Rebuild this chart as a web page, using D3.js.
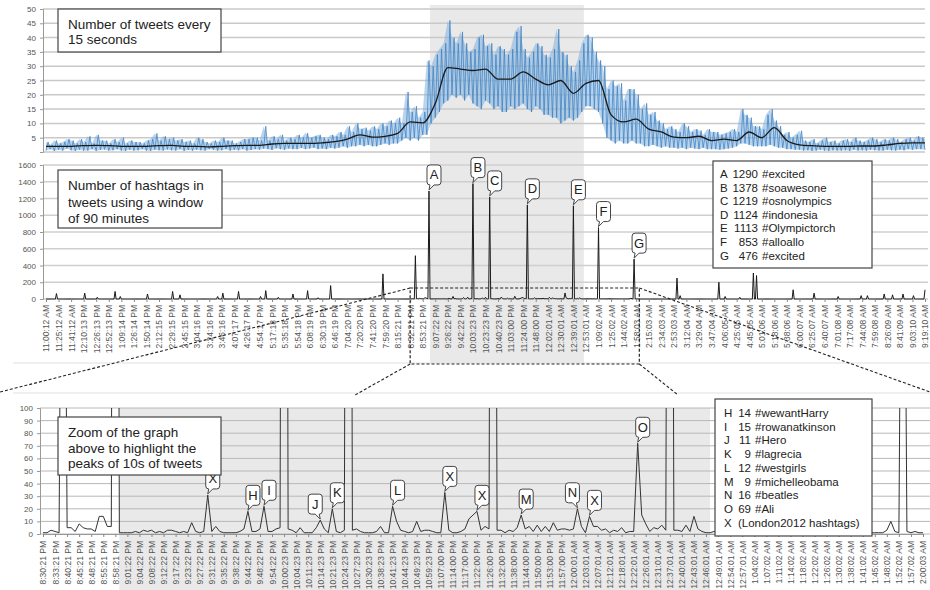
<!DOCTYPE html>
<html><head><meta charset="utf-8">
<script src="https://cdn.jsdelivr.net/npm/d3@7/dist/d3.min.js"></script>
<style>
body{margin:0;background:#fff}
text{font-family:"Liberation Sans",Arial,sans-serif}
</style>
</head><body>
<svg id="c" width="930" height="590"></svg>
<script>
// ---------- DATA ----------
// Panel 1: tweets every 15 s, envelope (high/low) of the noisy series every 4 samples and its moving average every 12 samples
const tweetsHigh = [3.5,2.5,4,3,3.5,4.5,4,3,4.5,3.5, 5.5,3,6,4,4,3,4.5,3.5,5,3,
  4,3.5,3.5,3,4,4.5,6.5,4,5.5,4.5, 5,4,4.5,3.5,4,3,5,4.5,3.5,3,
  4,3.5,5,4,4,3,3.5,4.5,4.5,5, 5,4,9,4,5.5,4.5,6,4,5,4.5,
  6,5,6.6,5,5.5,6,5,4.5,6,5.5, 7,6,9,7,10,8,8.5,7.5,9,8,
  10,9,11,10, 12,10,21,14,16,12,14,32, 30,34,36,38,46,40,38,42,
  38,35,36,40,41,37,38,34,37,36, 34,36,42,44,36,33,35,38,37,34,
  33,36,43,35,34,30,28,32,38,41, 40,35,32,30,22,25,23,24,18,22,
  22,20,15,17,13,14,11,10,8,9, 8,7,10,9,7,8,7.5,6,8,7,
  7,6,6.5,7,8,7,15,13,12,9, 9,8,13,15,11,9,6,7,5,6,
  7.4,4,3.5,4.5,3,4,5,3.5,4,3, 4,4.5,3.5,5,4,3.5,4,5,4.5,3.5,
  4.5,4,5,4.5,3.5,4.5,5,4,5.5,5,4.5];
const tweetsLow = [.5,1,.4,.8,.5,1.2,.6,.4,.8,.5, .5,1,.4,.7,.9,.5,.6,1,.5,.4,
  .8,.5,.6,1,.5,.4,.8,.6,.5,.9, .6,.5,1,.4,.7,.5,.8,.6,.5,1,
  .8,.5,.6,1,.5,.8,.6,1,.5,.7, 1,.8,1.2,1,.7,1.3,1,.8,1.2,1,
  1,1.4,1,1.2,1.5,1,1.2,1,1.5,1.2, 1.5,2,1.5,2,2,2.5,2,2.5,2,2,
  2.5,3,2.5,3, 3,4,5,4,5,4,6,6, 10,12,14,17,18,20,19,20,
  18,20,17,16,15,18,17,15,16,14, 14,16,15,16,17,15,14,16,15,13,
  13,12,12,10,11,12,11,12,14,16, 16,15,14,10,5,4,3,4,3,3,
  4,3,3,2,2,2.5,2,1.5,2,1.5, 1.5,1.2,1.5,1,1.5,1.2,1,1.5,1,1,
  1,.8,1,1.2,1.5,2,3,3,2.5,2, 2,2,2,2.5,2,1.5,1.5,1,1,.8,
  .8,.5,.6,.4,.5,.8,.5,.4,.6,.5, .5,.6,.4,.8,.5,.6,.5,.8,.6,.5,
  .5,.8,.6,.5,.8,.6,1,.8,1,1,.8];
const tweetsSmooth = [2,2,2,2.2,2.3,2.2,2,2,2,2.2, 2.3,2,2,1.8,2,2.2,2.3,2.3,2.8,3,
  3,3,3.2,3.6,4.5,6,5.2,5.5,6.5,10.5, 10.2,17,29.5,29,28.5,29,25.5,25.5,28,25.5,
  23.5,25,20.5,24,25,13,10.5,11.5,8,7, 5.2,5,5.5,4,4.5,4,7,5,8.5,4,
  2.5,2.2,2,2,2,2.1,2.1,2.5,3,3.2,3.2];
const tweetsTicks = [5,10,15,20,25,30,35,40,45,50];

// Panel 2: hashtags in a 90 min window (one label every 12 samples)
const hashLabels = ["11:00:12 AM","11:25:12 AM","11:41:12 AM","12:10:13 PM","12:26:13 PM","12:52:13 PM","1:09:14 PM","1:26:14 PM","1:50:14 PM","2:12:15 PM","2:29:15 PM","2:45:15 PM","3:04:16 PM","3:24:16 PM","3:46:16 PM","4:07:17 PM","4:26:17 PM","4:54:17 PM","5:17:18 PM","5:35:18 PM","5:54:18 PM","6:08:19 PM","6:30:19 PM","6:46:19 PM","7:04:20 PM","7:20:20 PM","7:41:20 PM","7:59:20 PM","8:15:21 PM","8:32:21 PM","8:53:21 PM","9:07:22 PM","9:26:22 PM","9:42:22 PM","10:03:23 PM","10:23:23 PM","10:40:23 PM","11:03:00 PM","11:24:00 PM","11:48:00 PM","12:02:01 AM","12:30:01 AM","12:39:01 AM","12:53:01 AM","1:09:02 AM","1:25:02 AM","1:44:02 AM","1:58:03 AM","2:15:03 AM","2:34:03 AM","2:53:03 AM","3:12:04 AM","3:29:04 AM","3:47:04 AM","4:06:05 AM","4:25:05 AM","4:45:05 AM","5:01:06 AM","5:18:06 AM","5:38:06 AM","6:00:07 AM","6:25:07 AM","6:40:07 AM","7:01:08 AM","7:17:08 AM","7:44:08 AM","7:59:08 AM","8:26:09 AM","8:41:09 AM","9:03:10 AM","9:19:10 AM"];
const hashTicks = [0,200,400,600,800,1000,1200,1400,1600];
const spikePos = [10,37,49,66,71,97,121,128,164,169,184,205,210,222,236,250,260,272,322,603,606,643,649,663,676,679,714,734,757,779,785,801,809,819,829,840];
const spikeVal = [65,70,20,90,30,60,90,50,30,70,90,30,100,20,60,100,15,160,300,250,40,200,30,20,310,280,110,70,30,40,40,60,50,60,40,110];
const peakLetters = ["A","B","C","D","E","F","G"];
const peakCounts = ["1290","1378","1219","1124","1113","853","476"];
const peakTags = ["#excited","#soawesone","#osnolympics","#indonesia","#Olympictorch","#alloallo","#excited"];

// Panel 3: zoom window (8:30 PM - 2:00 AM), one label every 3 samples
const zoomStart = 348;
const zoomLabels = ["8:30:21 PM","8:33:21 PM","8:40:21 PM","8:45:21 PM","8:48:21 PM","8:55:21 PM","8:58:21 PM","9:01:22 PM","9:04:22 PM","9:08:22 PM","9:12:22 PM","9:17:22 PM","9:23:22 PM","9:27:22 PM","9:31:22 PM","9:35:22 PM","9:38:22 PM","9:44:22 PM","9:48:22 PM","9:54:22 PM","10:00:23 PM","10:04:23 PM","10:11:23 PM","10:14:23 PM","10:21:23 PM","10:24:23 PM","10:27:23 PM","10:30:23 PM","10:38:23 PM","10:41:23 PM","10:44:23 PM","10:49:23 PM","10:59:23 PM","11:07:00 PM","11:14:00 PM","11:17:00 PM","11:22:00 PM","11:26:00 PM","11:32:00 PM","11:38:00 PM","11:44:00 PM","11:50:00 PM","11:53:00 PM","11:57:00 PM","12:00:01 AM","12:03:01 AM","12:07:01 AM","12:12:01 AM","12:18:01 AM","12:22:01 AM","12:26:01 AM","12:31:01 AM","12:37:01 AM","12:40:01 AM","12:43:01 AM","12:46:01 AM","12:49:01 AM","12:54:01 AM","12:57:01 AM","1:04:02 AM","1:07:02 AM","1:11:02 AM","1:14:02 AM","1:18:02 AM","1:22:02 AM","1:26:02 AM","1:30:02 AM","1:38:02 AM","1:41:02 AM","1:45:02 AM","1:48:02 AM","1:52:02 AM","1:57:02 AM","2:00:03 AM"];
const zoomCounts = [1,1,3,2,1,517,5,5,2,8, 5,4,4,2,14,14,6,6,1290,1,
  1,1,1,2,1,3,2,3,1,2, 1,3,3,2,1,2,1,9,2,1,
  2,31,2,6,2,1,1,1,1,2, 4,18,2,2,4,22,2,2,4,5,
  1378,4,3,1,5,1,1,1,5,11, 4,1,20,2,1,3,1219,3,4,2,
  1,1,1,2,6,1,1,22,10,3, 2,1,2,10,2,3,3,2,1,1,
  33,3,1,1,2,4,12,15,18,3, 6,4,1124,3,3,1,3,2,5,15,
  4,6,2,7,2,6,2,9,3,4, 4,3,4,20,6,1,14,6,6,3,
  4,1,3,2,5,1,2,2,72,15, 8,2,5,4,7,3,1113,3,3,2,
  7,2,14,4,2,1,1,2,1,3, 2,1,4,2,1,2,3,1,2,4,
  853,3,2,1,2,3,1,2,1,2, 3,1,2,2,1,3,1,2,1,2,
  1,1,2,1,1,1,1,1,1,1, 3,10,2,1,476,2,1,2,1,1];
const zoomTicks = [0,10,20,30,40,50,60,70,80,90,100];
const zoomPeakLetters = ["X","H","I","J","K","L","X","X","M","N","X","O"];
const zoomPeakIdx = [41,51,55,69,72,87,100,108,119,133,136,148];
const zoomPeakSide = ["l","l","l","r","l","l","l","l","l","r","l","l"];
const zoomLegLetters = ["H","I","J","K","L","M","N","O","X"];
const zoomLegCounts = ["14","15","11","9","12","9","16","69",""];
const zoomLegTags = ["#wewantHarry","#rowanatkinson","#Hero","#lagrecia","#westgirls","#michelleobama","#beatles","#Ali","(London2012 hashtags)"];
const highlight = [367, 514]; // sample range shaded in grey

// ---------- CHART ----------
const svg = d3.select("#c");
const gray = "#555";
const nMain = 840;
const xMain = d3.scaleLinear().domain([0, nMain]).range([46, 925]);
const yTop = d3.scaleLinear().domain([0, 50]).range([152, 9]);
const yMid = d3.scaleLinear().domain([0, 1600]).range([299, 165]);
const xZoom = d3.scaleLinear().domain([0, zoomLabels.length*3 - 3]).range([43, 923]);
const yBot = d3.scaleLinear().domain([0, 100]).range([534, 408]);

// shaded areas
svg.append("rect").attr("x", xMain(highlight[0])).attr("y", 5)
  .attr("width", xMain(highlight[1]) - xMain(highlight[0])).attr("height", 358).attr("fill", "#e9e9e9");
svg.append("rect").attr("x", xZoom(highlight[0]-zoomStart)).attr("y", 408)
  .attr("width", xZoom(highlight[1]-zoomStart) - xZoom(highlight[0]-zoomStart)).attr("height", 182).attr("fill", "#e9e9e9");

// faint frame lines
[363, 393].forEach(y => svg.append("line").attr("x1", 13).attr("x2", 930).attr("y1", y).attr("y2", y)
  .attr("stroke", "#e0e0e0").attr("stroke-width", 1));

function yAxis(scale, ticks, x0, x1, gridColor, gw, showZero) {
  const g = svg.append("g");
  g.selectAll("line.grid").data(ticks).join("line")
    .attr("x1", x0).attr("x2", x1).attr("y1", d => scale(d)).attr("y2", d => scale(d))
    .attr("stroke", gridColor).attr("stroke-width", gw);
  const ax = svg.append("g").attr("transform", `translate(${x0},0)`)
    .call(d3.axisLeft(scale).tickValues(ticks).tickSize(3).tickPadding(4).tickFormat(d => (d === 0 && !showZero) ? "" : d));
  ax.select(".domain").attr("stroke", "#999");
  ax.selectAll(".tick line").attr("stroke", "#999");
  ax.selectAll("text").attr("fill", gray).attr("font-size", 8);
  return ax;
}

// ---- Top panel ----
yAxis(yTop, [0].concat(tweetsTicks), 43, 925, "#c9c9c9", 1.5, false);
const step = 4;
const topIdx = tweetsHigh.map((d, i) => i);
svg.append("path").datum(topIdx)
  .attr("d", d3.area().x(i => xMain(i*step)).y0(i => yTop(tweetsLow[i])).y1(i => yTop(tweetsHigh[i])))
  .attr("fill", "#7fb0dc").attr("opacity", 0.55);
const zig = [];
topIdx.forEach(i => { zig.push([i*step, tweetsLow[i]]); if (i < topIdx.length-1) zig.push([i*step+step/2, tweetsHigh[i]]); });
svg.append("path").datum(zig)
  .attr("d", d3.line().x(d => xMain(d[0])).y(d => yTop(d[1])))
  .attr("fill", "none").attr("stroke", "#3f82c2").attr("stroke-width", 0.9).attr("opacity", 0.85);
svg.append("path").datum(tweetsSmooth)
  .attr("d", d3.line().x((d, j) => xMain(j*12)).y(d => yTop(d)).curve(d3.curveMonotoneX))
  .attr("fill", "none").attr("stroke", "#1a1a1a").attr("stroke-width", 1.3);

// ---- Middle panel ----
yAxis(yMid, hashTicks, 43, 928, "#cfcfcf", 1.5, true);
const hashSeries = d3.range(nMain + 1).map(() => 0);
zoomCounts.forEach((v, k) => { hashSeries[zoomStart + k] = v; });
spikePos.forEach((p, k) => { hashSeries[p] = spikeVal[k]; });
svg.append("path").datum(hashSeries)
  .attr("d", d3.line().x((d, i) => xMain(i)).y(d => yMid(d)))
  .attr("fill", "none").attr("stroke", "#1a1a1a").attr("stroke-width", 1);
const xAxMid = svg.append("g").attr("transform", "translate(0,299)")
  .call(d3.axisBottom(xMain).tickValues(hashLabels.map((d, i) => i*12)).tickSize(3)
    .tickFormat((d, i) => hashLabels[i]));
xAxMid.select(".domain").remove();
xAxMid.selectAll(".tick line").attr("stroke", "#888");
xAxMid.selectAll("text").attr("transform", "rotate(-90)").attr("text-anchor", "end")
  .attr("x", -6).attr("y", 0).attr("dy", "0.35em").attr("fill", gray).attr("font-size", 8.5);

// ---- Bottom panel ----
yAxis(yBot, zoomTicks, 40, 930, "#b8b8b8", 1, true);
svg.append("clipPath").attr("id", "clipBot").append("rect").attr("x", 38).attr("y", 408).attr("width", 892).attr("height", 130);
svg.append("path").datum(zoomCounts).attr("clip-path", "url(#clipBot)")
  .attr("d", d3.line().x((d, i) => xZoom(i)).y(d => yBot(d)))
  .attr("fill", "none").attr("stroke", "#333").attr("stroke-width", 1);
const xAxBot = svg.append("g").attr("transform", "translate(0,534)")
  .call(d3.axisBottom(xZoom).tickValues(zoomLabels.map((d, i) => i*3)).tickSize(3)
    .tickFormat((d, i) => zoomLabels[i]));
xAxBot.select(".domain").attr("stroke", "#999");
xAxBot.selectAll(".tick line").attr("stroke", "#888");
xAxBot.selectAll("text").attr("transform", "rotate(-90)").attr("text-anchor", "end")
  .attr("x", -7).attr("y", 0).attr("dy", "0.35em").attr("fill", gray).attr("font-size", 8.5);

// ---- zoom connector (dashed) ----
const zx0 = xMain(zoomStart), zx1 = xMain(zoomStart + zoomCounts.length - 1);
const dash = "3,2";
svg.append("rect").attr("x", zx0).attr("y", 288).attr("width", zx1 - zx0).attr("height", 76)
  .attr("fill", "none").attr("stroke", "#222").attr("stroke-width", 1.2).attr("stroke-dasharray", dash);
[[zx0, 288, 0, 392], [zx1, 288, 930, 392], [zx0, 364, 355, 395], [zx1, 364, 678, 395]].forEach(l =>
  svg.append("line").attr("x1", l[0]).attr("y1", l[1]).attr("x2", l[2]).attr("y2", l[3])
    .attr("stroke", "#222").attr("stroke-width", 1.1).attr("stroke-dasharray", dash));

// ---- callouts ----
function callout(x, y, letter, side) {
  const w = 14, h = 20, r = 3, gap = 6;
  const bx = side === "r" ? x - w + 2 : x - 2;
  const by = y - gap - h;
  const b1 = side === "r" ? bx + w - 3 : bx + 7;
  const b2 = side === "r" ? bx + w - 7 : bx + 3;
  const p = `M${bx+r},${by} H${bx+w-r} Q${bx+w},${by} ${bx+w},${by+r} V${by+h-r} Q${bx+w},${by+h} ${bx+w-r},${by+h} H${b1} L${x},${y-1} L${b2},${by+h} H${bx+r} Q${bx},${by+h} ${bx},${by+h-r} V${by+r} Q${bx},${by} ${bx+r},${by} Z`;
  svg.append("path").attr("d", p).attr("fill", "#fff").attr("stroke", "#444").attr("stroke-width", 1);
  svg.append("text").attr("x", bx + w/2).attr("y", by + h/2 + 4.5).attr("text-anchor", "middle")
    .attr("font-size", 13).attr("fill", "#222").text(letter);
}
peakLetters.forEach((L, k) => {
  const idx = hashSeries.findIndex((v, i) => i >= zoomStart && String(v) === peakCounts[k]);
  callout(xMain(idx), yMid(hashSeries[idx]), L, "l");
});
zoomPeakLetters.forEach((L, k) => {
  const i = zoomPeakIdx[k];
  callout(xZoom(i), yBot(zoomCounts[i]), L, zoomPeakSide[k]);
});

// ---- text boxes ----
function textBox(x, y, w, h, lines, lx, ly0, dy, fs) {
  svg.append("rect").attr("x", x).attr("y", y).attr("width", w).attr("height", h)
    .attr("fill", "#fff").attr("stroke", "#444").attr("stroke-width", 1.2);
  lines.forEach((t, i) => svg.append("text").attr("x", lx).attr("y", ly0 + i*dy)
    .attr("font-size", fs).attr("fill", "#222").text(t));
}
textBox(58, 9, 163, 43, ["Number of tweets every", "15 seconds"], 68, 29, 15, 13.5);
textBox(58, 170, 164, 58, ["Number of hashtags in", "tweets using a window", "of 90 minutes"], 68, 190, 16.5, 13.5);
textBox(58, 417, 163, 58, ["Zoom of the graph", "above to highlight the", "peaks of 10s of tweets"], 68, 437, 15.5, 13.5);

// legend boxes
svg.append("rect").attr("x", 713).attr("y", 161).attr("width", 159).attr("height", 107)
  .attr("fill", "#fff").attr("stroke", "#444").attr("stroke-width", 1.2);
peakLetters.forEach((L, k) => {
  const y = 178 + k*13.6;
  svg.append("text").attr("x", 720).attr("y", y).attr("font-size", 11.5).attr("fill", "#222").text(L);
  svg.append("text").attr("x", 758).attr("y", y).attr("text-anchor", "end").attr("font-size", 11.5).attr("fill", "#222").text(peakCounts[k]);
  svg.append("text").attr("x", 762).attr("y", y).attr("font-size", 11.5).attr("fill", "#222").text(peakTags[k]);
});
svg.append("rect").attr("x", 715).attr("y", 399).attr("width", 157).attr("height", 137)
  .attr("fill", "#fff").attr("stroke", "#444").attr("stroke-width", 1.2);
zoomLegLetters.forEach((L, k) => {
  const y = 417 + k*13.7;
  svg.append("text").attr("x", 724).attr("y", y).attr("font-size", 11.5).attr("fill", "#222").text(L);
  if (zoomLegCounts[k]) {
    svg.append("text").attr("x", 751).attr("y", y).attr("text-anchor", "end").attr("font-size", 11.5).attr("fill", "#222").text(zoomLegCounts[k]);
    svg.append("text").attr("x", 755).attr("y", y).attr("font-size", 11.5).attr("fill", "#222").text(zoomLegTags[k]);
  } else {
    svg.append("text").attr("x", 738).attr("y", y).attr("font-size", 11.5).attr("fill", "#222").text(zoomLegTags[k]);
  }
});
</script>
</body></html>
